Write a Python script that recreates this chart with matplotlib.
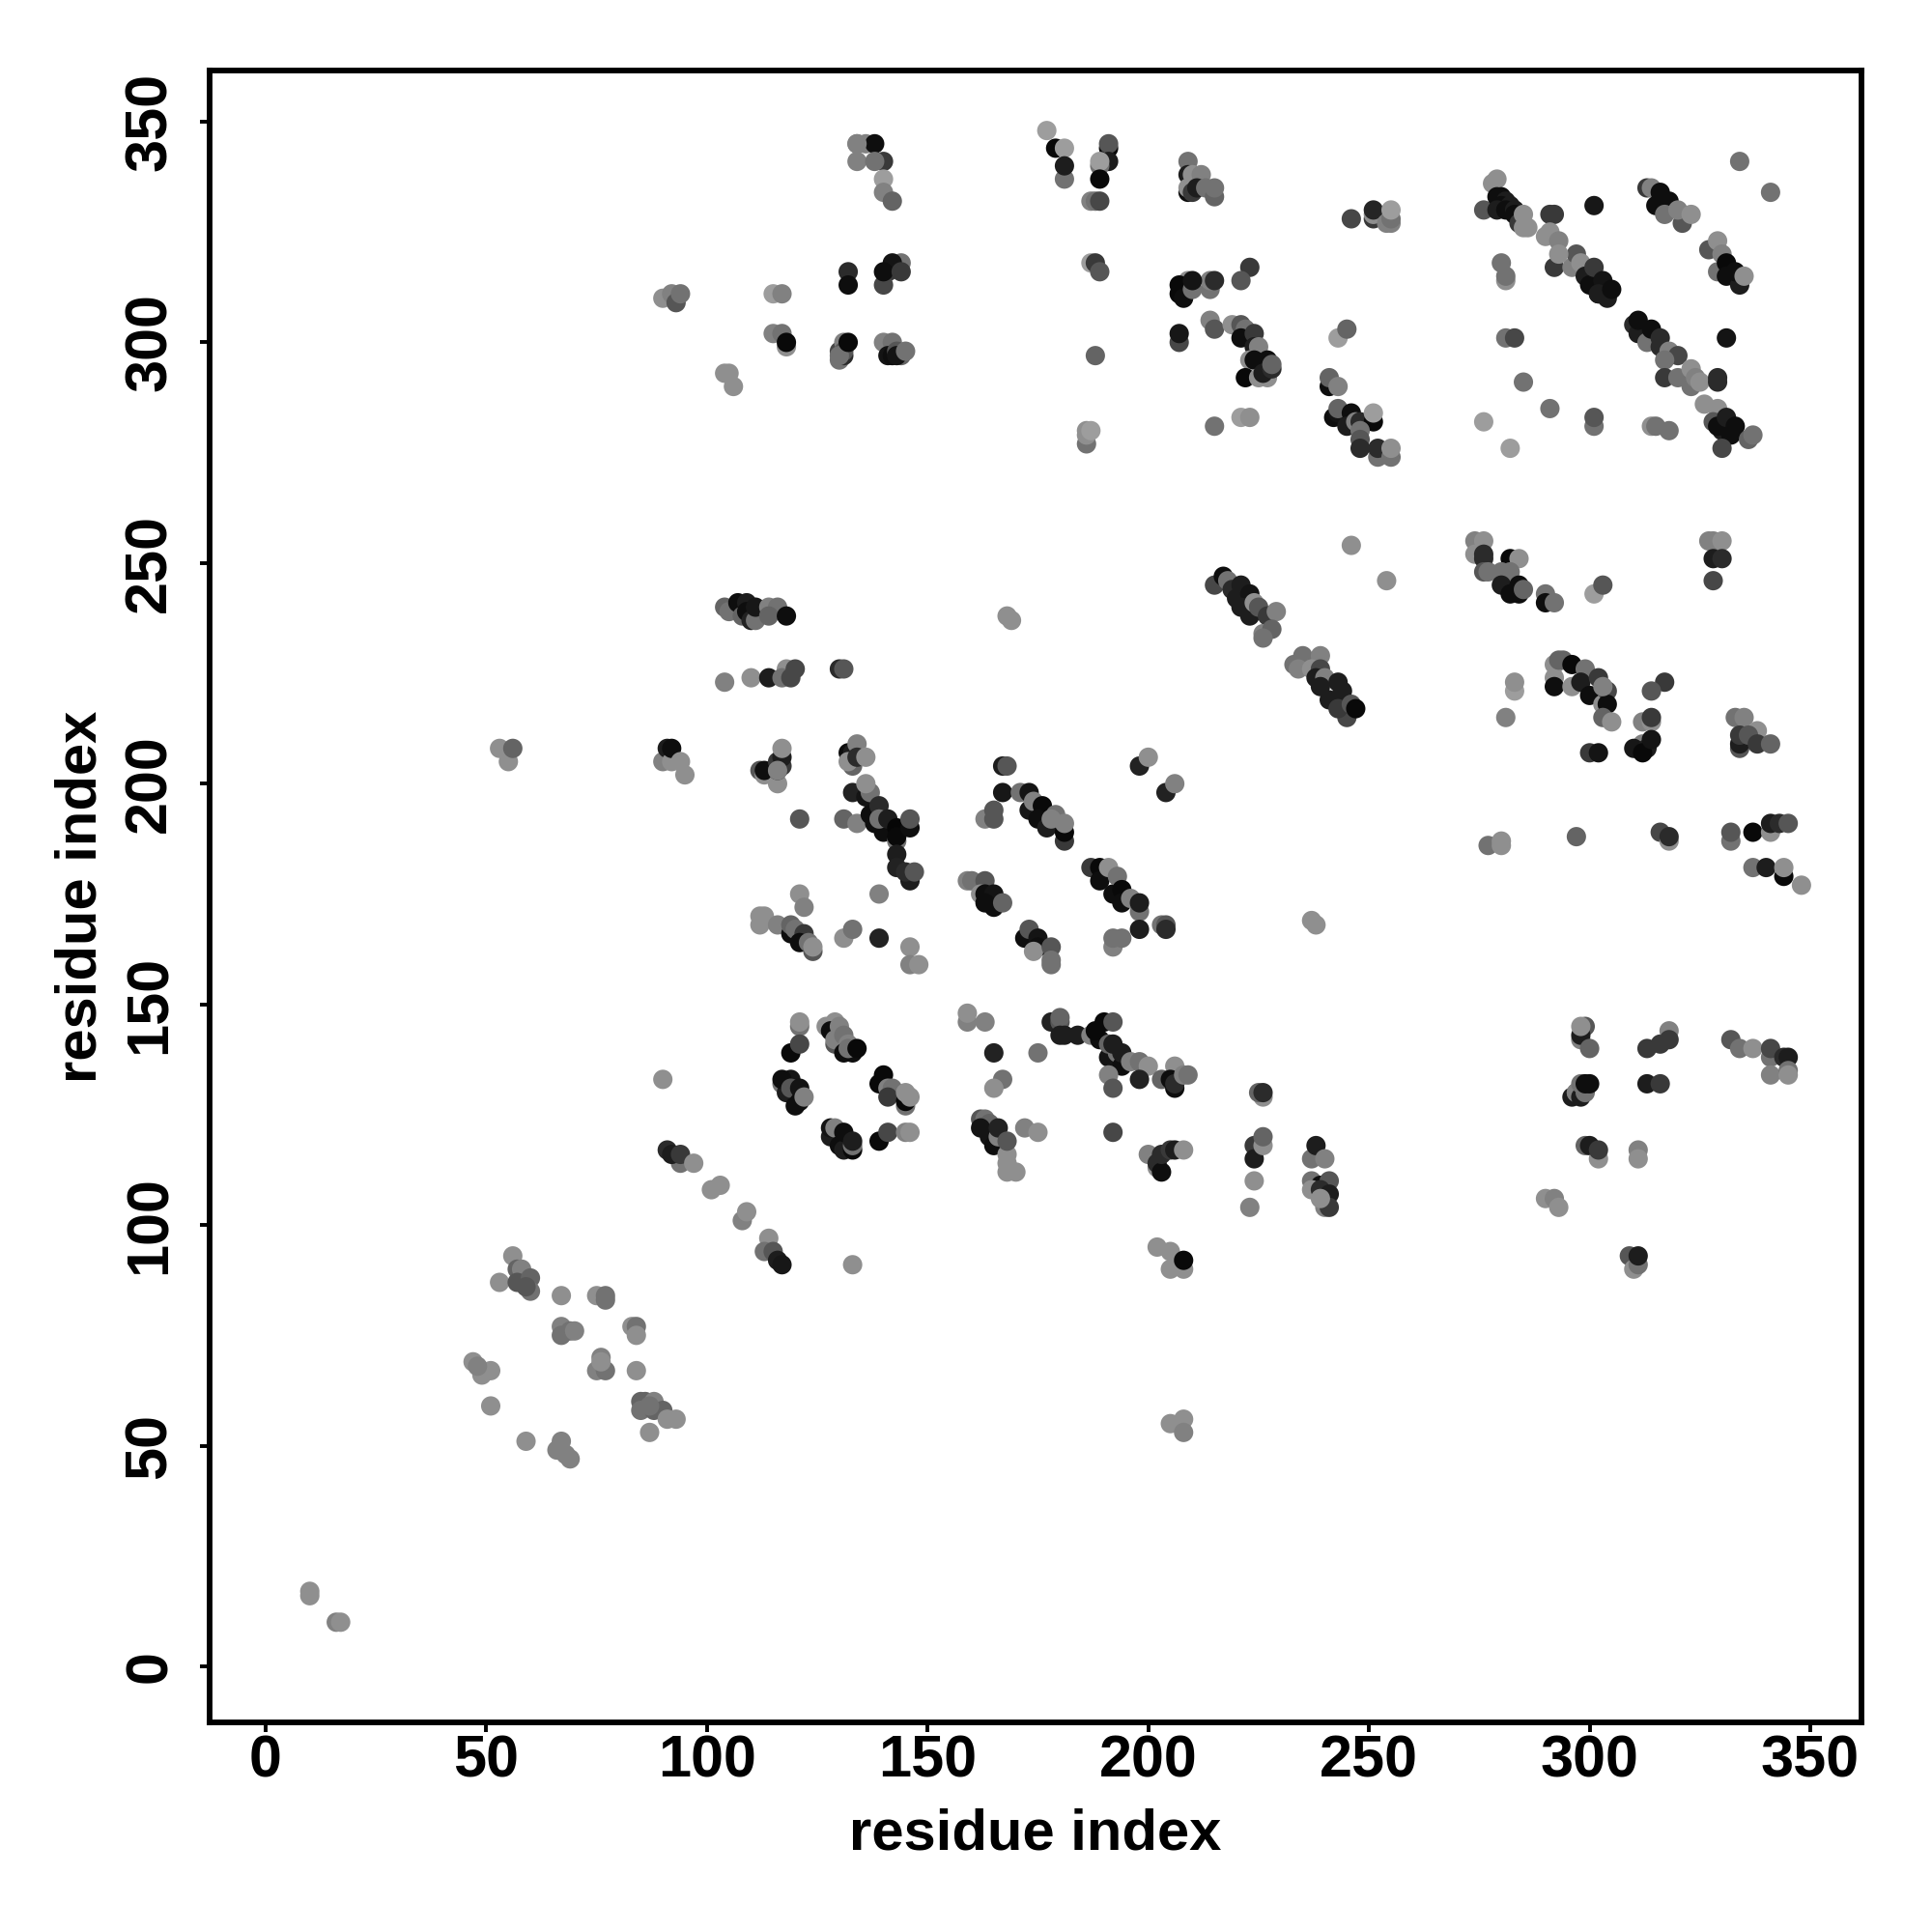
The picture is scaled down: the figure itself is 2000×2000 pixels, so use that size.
import matplotlib
matplotlib.use('Agg')
import matplotlib.pyplot as plt

# contact map, residue pairs, one block per region
x_a = [334,341,278,279,276,279,280,281,280,282,279,281,283,283,284,285,285,286,301,291,292]
y_a = [341,334,336,337,330,333,333,332,331,331,330,330,330,329,327,329,326,326,331,329,329]
g_a = [.4,.4,.5,.5,.3,.05,.05,.1,.05,.1,.1,.05,.1,.05,.2,.5,.5,.5,.08,.2,.2]

x_b = [292,296,297,298,290,291,293,293,299,300,301,302,303,302,304,305,280,281,281,281,283,331]
y_b = [317,317,320,318,324,325,323,320,315,313,317,311,314,311,310,312,318,314,315,301,301,301]
g_b = [.2,.45,.3,.5,.5,.5,.45,.5,.1,.05,.2,.05,.07,.1,.1,.05,.4,.5,.4,.4,.25,.07]

x_c = [313,314,315,316,318,317,321,320,323,327,329,330,329,331,331,334,333,335]
y_c = [335,335,331,334,332,329,327,330,329,321,323,320,316,318,315,313,316,315]
g_c = [.2,.45,.05,.05,.05,.4,.3,.45,.5,.3,.5,.45,.4,.03,.05,.1,.05,.5]

x_d = [310,311,311,313,314,316,316,318,320,317,317,320,323,323,324,325,329,329,285,291,276,282]
y_d = [304,302,305,300,303,301,299,298,297,296,292,292,290,294,292,291,291,292,291,285,282,276]
g_d = [.15,.1,.05,.4,.05,.15,.15,.45,.25,.4,.2,.4,.4,.5,.45,.5,.15,.15,.4,.4,.55,.55]

x_e = [301,301,314,315,318,326,329,328,330,329,331,333,332,330,336,337]
y_e = [281,283,281,281,280,286,285,282,280,281,283,281,279,276,278,279]
g_e = [.4,.3,.5,.4,.4,.5,.5,.3,.1,.05,.1,.05,.05,.25,.35,.4]

x_f = [177,179,181,181,181,191,191,191,189,189,189,187,188,189]
y_f = [348,344,344,337,340,344,345,341,340,341,337,332,332,332]
g_f = [.55,.03,.55,.4,.1,.03,.3,.1,.4,.55,.03,.45,.4,.25]

x_g = [209,209,210,212,209,209,210,211,213,215,215,246,251,251,251,254,255,255,255]
y_g = [341,338,338,338,334,335,334,335,335,333,335,328,328,329,330,327,327,328,330]
g_g = [.4,.1,.5,.45,.05,.5,.2,.1,.4,.35,.4,.25,.2,.5,.13,.45,.45,.4,.55]

x_h = [187,188,189,223,221,214,214,215,209,207,207,208,210,210]
y_h = [318,318,316,317,314,312,314,314,314,313,311,310,312,314]
g_h = [.55,.2,.3,.2,.3,.4,.45,.15,.5,.03,.03,.05,.4,.07]

x_i = [214,215,219,221,222,221,224,224,225,223,224,227,222,225,227,226,228,228,207,207,188]
y_i = [305,303,304,304,303,301,302,299,299,296,296,296,292,292,292,293,294,295,300,302,297]
g_i = [.45,.3,.5,.3,.4,.05,.2,.1,.45,.5,.05,.05,.03,.5,.5,.1,.15,.35,.25,.08,.35]

x_j = [243,245,241,241,243,215,221,223,186,186,186,187]
y_j = [301,303,290,292,290,281,283,283,277,279,280,280]
g_j = [.55,.35,.05,.35,.45,.4,.55,.5,.4,.5,.5,.55]

x_k = [242,243,243,246,245,247,248,251,251,248,248,248,252,252,255,255]
y_k = [283,284,285,284,281,282,282,282,284,280,278,276,274,276,274,276]
g_k = [.05,.07,.35,.05,.1,.45,.15,.03,.55,.4,.3,.15,.4,.15,.4,.5]

x_l = [246,254,274,276,274,276,276,276,277,282,284,280,282,280,284,282,284,285,290,290,292,301,303]
y_l = [254,246,255,255,252,252,251,248,248,251,251,248,248,245,245,243,243,244,243,241,241,243,245]
g_l = [.5,.5,.45,.5,.5,.15,.15,.3,.4,.03,.5,.4,.4,.1,.05,.05,.05,.35,.4,.05,.4,.55,.3]

x_m = [327,328,330,328,330,328]
y_m = [255,255,255,251,251,246]
g_m = [.45,.45,.5,.1,.15,.25]

x_n = [215,217,218,219,221,220,223,221,223,224,225,227,229,226,228,226]
y_n = [245,247,246,244,245,242,243,240,238,241,240,238,239,234,235,233]
g_n = [.25,.05,.4,.15,.1,.1,.07,.1,.1,.5,.3,.2,.45,.45,.35,.4]

x_o = [235,233,234,239,237,239,238,240,239,243,241,244,245,243,246,247]
y_o = [229,227,226,229,226,226,224,224,222,223,219,221,215,217,218,217]
g_o = [.4,.4,.45,.45,.5,.25,.1,.45,.1,.1,.1,.1,.25,.2,.3,.03]

x_p = [292,292,292,293,294,296,296,299,298,302,300,303,304,304,303]
y_p = [227,224,222,228,228,222,227,226,223,224,220,218,221,218,222]
g_p = [.5,.5,.05,.35,.35,.5,.03,.4,.1,.2,.05,.5,.25,.05,.45]

x_q = [317,314,283,283,281,303,305,312,314,314,312,310,313,312,300,302]
y_q = [223,221,221,223,215,215,214,214,214,215,209,208,208,207,207,207]
g_q = [.2,.3,.55,.5,.45,.35,.5,.45,.5,.2,.45,.08,.1,.03,.2,.07]
x_q2 = [314,333,335,338,334,334,334,336,338,341]
y_q2 = [210,215,215,212,208,209,211,211,209,209]
g_q2 = [.07,.4,.45,.5,.3,.1,.2,.3,.2,.35]

x_r = [277,280,280,297,316,318,318,332,332,337,341,341,343,345,337,340,344,344,348]
y_r = [186,186,187,188,189,187,188,187,189,189,189,191,191,191,181,181,179,181,177]
g_r = [.4,.5,.5,.35,.25,.5,.15,.4,.3,.03,.5,.1,.15,.3,.4,.1,.03,.5,.5]

x_s = [112,113,113,116,116,117,116,117,117,116,121]
y_s = [203,202,203,200,205,204,203,206,208,203,192]
g_s = [.3,.5,.05,.5,.2,.2,.15,.1,.5,.45,.3]

x_t = [133,132,133,134,132,134,136,133,136,137,136]
y_t = [204,207,207,209,205,206,206,198,197,198,200]
g_t = [.35,.05,.1,.45,.5,.15,.5,.12,.07,.4,.5]

x_u = [131,134,137,138,139,140,139,141,143,143,143,146,146,143,143,146,145,147]
y_u = [192,191,193,191,195,189,192,192,187,190,188,190,192,184,181,178,180,180]
g_u = [.35,.45,.05,.05,.15,.05,.4,.1,.4,.02,.03,.05,.3,.1,.12,.1,.15,.3]

x_v = [121,122,139,112,112,113,116,119,119,120,122,121,123,124,124,131,133,139,146,146,148]
y_v = [175,172,175,168,170,170,168,166,168,167,166,164,164,162,163,165,167,165,163,159,159]
g_v = [.5,.45,.45,.5,.5,.5,.45,.05,.35,.4,.2,.05,.4,.3,.5,.5,.4,.12,.5,.45,.5]

x_w = [159,160,163,162,163,165,163,165,167,172,173,175,175,174,178,178,178]
y_w = [178,178,178,175,175,175,173,172,173,165,167,165,163,162,163,159,160]
g_w = [.45,.4,.3,.5,.05,.07,.05,.05,.35,.05,.3,.07,.05,.5,.3,.4,.4]

x_y = [167,168,167,171,173,163,165,165,173,174,176,175,177,179,178,181,181,181]
y_y = [204,204,198,198,198,192,194,192,194,196,195,192,190,193,192,187,189,191]
g_y = [.1,.3,.08,.4,.07,.45,.3,.3,.08,.45,.03,.05,.1,.4,.45,.2,.03,.45]

x_z = [187,189,189,191,192,193,194,194,196,198,198,192,194,192,198,203,204,204,198,200,204,206]
y_z = [181,181,178,181,175,179,176,173,174,171,173,163,165,165,167,168,168,167,204,206,198,200]
g_z = [.2,.03,.05,.5,.05,.4,.03,.05,.45,.4,.1,.45,.4,.4,.1,.4,.3,.15,.12,.5,.12,.45]

x_aa = [121,121,119,121,127,129,128,130,129,129,131,132,131,133,132,134]
y_aa = [145,146,139,141,145,146,144,145,141,142,143,141,139,139,140,140]
g_aa = [.4,.5,.03,.25,.5,.5,.05,.45,.3,.45,.4,.45,.05,.05,.4,.03]

x_ab = [117,119,118,117,119,121,120,121,122,140,139,141,142,141,145,145,145,146]
y_ab = [132,133,130,133,131,131,127,128,129,134,132,131,131,129,127,128,130,129]
g_ab = [.4,.08,.1,.05,.3,.07,.05,.05,.45,.03,.03,.45,.4,.2,.4,.03,.5,.5]

x_ac = [128,128,129,130,131,131,133,133,133,139,141,145,146]
y_ac = [120,122,122,118,117,121,117,118,119,119,121,121,121]
g_ac = [.1,.07,.45,.05,.1,.05,.03,.4,.1,.03,.25,.45,.5]

x_ad = [159,159,163,178,180,180,180,181,184,187,189,188,190,192,191,191,193,192,194,194]
y_ad = [146,148,146,146,146,147,143,143,143,143,142,144,146,146,138,141,139,141,136,139]
g_ad = [.45,.5,.45,.12,.3,.35,.1,.1,.1,.45,.05,.03,.03,.3,.07,.35,.4,.1,.05,.1]

x_ae = [196,198,200,191,192,198,206,203,206,205,206,208,209,165,175,167,165,192,172,175]
y_ae = [137,137,136,134,131,133,136,133,131,133,132,134,134,139,139,133,131,121,122,121]
g_ae = [.45,.4,.5,.45,.3,.12,.5,.35,.05,.05,.15,.45,.4,.12,.4,.4,.5,.25,.45,.5]

x_af = [162,163,164,162,164,165,166,166,168,168,168,170,168]
y_af = [124,124,123,122,120,118,120,122,116,114,112,112,119]
g_af = [.3,.4,.35,.07,.07,.05,.45,.12,.5,.5,.5,.5,.3]

x_ag = [200,202,202,203,203,205,206,208]
y_ag = [116,113,114,112,116,117,117,117]
g_ag = [.45,.5,.15,.05,.15,.2,.1,.5]

x_ah = [134,134,136,138,140,134,138,140,140,142,132,132,141,140,144,142,140,144]
y_ah = [345,341,345,345,341,345,341,337,334,332,316,313,316,313,318,318,316,316]
g_ah = [.45,.45,.45,.05,.2,.45,.4,.55,.45,.35,.15,.05,.2,.25,.4,.07,.05,.2]

x_ai = [90,92,93,94,115,117,115,117,118,118,104,105,106]
y_ai = [310,311,309,311,311,311,302,302,299,300,293,293,290]
g_ai = [.5,.45,.3,.4,.55,.45,.45,.4,.5,.03,.5,.5,.5]

x_aj = [130,130,131,131,131,130,132,140,142,141,142,143,144,143,145]
y_aj = [296,298,300,297,298,297,300,300,300,297,297,298,297,297,298]
g_aj = [.4,.25,.45,.15,.3,.4,.03,.45,.4,.07,.05,.3,.35,.07,.4]

x_ak = [104,105,107,108,109,109,110,111,111,114,116,114,118]
y_ak = [240,239,241,238,241,239,237,237,240,240,240,238,238]
g_ak = [.35,.4,.05,.35,.1,.05,.12,.4,.08,.45,.4,.35,.05]

x_al = [104,110,114,118,117,120,119,130,131,53,55,56,90,91,92,92,94,95]
y_al = [223,224,224,226,224,226,224,226,226,208,205,208,205,208,205,208,205,202]
g_al = [.45,.5,.1,.5,.4,.25,.25,.15,.3,.5,.5,.35,.45,.1,.5,.05,.5,.5]

x_am = [90,94,91,92,94,97,101,103,108,109,114,113,115,116,117,133]
y_am = [133,114,117,116,116,114,108,109,101,103,97,94,94,92,91,91]
g_am = [.5,.4,.15,.1,.2,.5,.5,.5,.45,.5,.5,.4,.3,.1,.08,.5]

x_an = [53,56,57,58,57,60,60,59,67,75,77,77,67,69,67,70,83,84,84,84]
y_an = [87,93,90,90,87,88,85,86,84,84,84,83,77,76,75,76,77,77,75,67]
g_an = [.5,.5,.35,.45,.3,.35,.4,.3,.5,.5,.4,.4,.45,.4,.4,.45,.5,.4,.5,.5]

x_ao = [76,75,77,76,47,49,51,49,48,51,59,67,66,68,69]
y_ao = [70,67,67,69,69,66,67,67,68,59,51,51,49,48,47]
g_ao = [.45,.45,.4,.5,.5,.5,.5,.5,.45,.5,.5,.45,.45,.45,.45]

x_ap = [85,86,85,88,88,90,87,91,93,87,10,10,16,17]
y_ap = [60,60,58,60,58,58,59,56,56,53,17,16,10,10]
g_ap = [.35,.35,.4,.45,.35,.35,.4,.5,.5,.5,.5,.5,.45,.5]

x_aq = [223,224,224,224,226,226,226,225,226,237,238,240,237,239,241,237,239,241,240,241,239]
y_aq = [104,110,118,115,118,120,129,130,130,115,118,115,110,109,110,108,108,107,104,104,106]
g_aq = [.45,.5,.2,.1,.5,.35,.5,.35,.15,.4,.1,.45,.4,.05,.3,.5,.15,.1,.45,.2,.5]

x_ar = [202,205,205,208,208,205,208,208,290,292,293,309,310,311,311,311,311]
y_ar = [95,94,90,90,92,55,56,53,106,106,104,93,90,91,93,117,115]
g_ar = [.5,.5,.5,.5,.03,.5,.5,.45,.5,.45,.5,.3,.5,.4,.1,.45,.5]

x_as = [299,300,302,302,296,297,297,298,298,299,299,300,298,299,298,298,300]
y_as = [118,118,115,117,129,130,130,129,132,130,132,132,142,145,143,145,140]
g_as = [.35,.1,.5,.2,.1,.4,.45,.1,.4,.4,.05,.05,.45,.3,.1,.5,.35]

x_at = [313,313,316,316,318,318,332,334,337,341,341,344,345,341,345,345]
y_at = [140,132,132,141,144,142,142,140,140,138,140,138,138,134,135,134]
g_at = [.2,.1,.2,.2,.45,.2,.3,.4,.5,.4,.25,.15,.1,.45,.4,.5]

x_au = [168,169,237,238]
y_au = [238,237,169,168]
g_au = [.5,.5,.5,.5]

x_blocks = [x_a,x_b,x_c,x_d,x_e,x_f,x_g,x_h,x_i,x_j,x_k,x_l,x_m,x_n,x_o,x_p,x_q,x_q2,x_r,x_s,x_t,x_u,x_v,x_w,x_y,x_z,
            x_aa,x_ab,x_ac,x_ad,x_ae,x_af,x_ag,x_ah,x_ai,x_aj,x_ak,x_al,x_am,x_an,x_ao,x_ap,x_aq,x_ar,x_as,x_at,x_au]
y_blocks = [y_a,y_b,y_c,y_d,y_e,y_f,y_g,y_h,y_i,y_j,y_k,y_l,y_m,y_n,y_o,y_p,y_q,y_q2,y_r,y_s,y_t,y_u,y_v,y_w,y_y,y_z,
            y_aa,y_ab,y_ac,y_ad,y_ae,y_af,y_ag,y_ah,y_ai,y_aj,y_ak,y_al,y_am,y_an,y_ao,y_ap,y_aq,y_ar,y_as,y_at,y_au]
g_blocks = [g_a,g_b,g_c,g_d,g_e,g_f,g_g,g_h,g_i,g_j,g_k,g_l,g_m,g_n,g_o,g_p,g_q,g_q2,g_r,g_s,g_t,g_u,g_v,g_w,g_y,g_z,
            g_aa,g_ab,g_ac,g_ad,g_ae,g_af,g_ag,g_ah,g_ai,g_aj,g_ak,g_al,g_am,g_an,g_ao,g_ap,g_aq,g_ar,g_as,g_at,g_au]

ticks = [0,50,100,150,200,250,300,350]

plt.rcParams['font.family'] = ['Liberation Sans', 'DejaVu Sans']
plt.rcParams['font.weight'] = 'bold'

fig = plt.figure(figsize=(10,10), dpi=200)
ax = fig.add_axes([216.7/2000, 1-1783/2000, (1927-216.7)/2000, (1783-73)/2000])

for n,(xs,ys,gs) in enumerate(zip(x_blocks,y_blocks,g_blocks)):
    # a length slip in the lists should show up with its block number
    if not (len(xs)==len(ys)==len(gs)):
        print('block',n,len(xs),len(ys),len(gs))
        m = min(len(xs),len(ys),len(gs))
        xs,ys,gs = xs[:m],ys[:m],gs[:m]
    # the greys came out a bit dark against the reference
    ax.scatter(xs,ys,s=52,c=[str(round(v*1.12,3)) for v in gs],linewidths=0)

ax.set_xlim(-12.76,361.6)
ax.set_ylim(-12.7,361.6)
ax.set_xticks(ticks)
ax.set_yticks(ticks)
ax.tick_params(axis='x',length=3.5,width=1.4,labelsize=22,pad=1)
ax.tick_params(axis='y',length=3.5,width=1.4,labelsize=22,pad=8)
for lab in ax.get_yticklabels():
    lab.set_rotation(90)
    lab.set_va('center')
for sp in ax.spines.values():
    sp.set_linewidth(2.1)
ax.set_xlabel('residue index',fontsize=21.5,fontweight='bold')
ax.set_ylabel('residue index',fontsize=21.5,fontweight='bold')
ax.xaxis.set_label_coords(0.5,-0.0515)
ax.yaxis.set_label_coords(-0.0615,0.5)

fig.savefig('out.png',dpi=200)
